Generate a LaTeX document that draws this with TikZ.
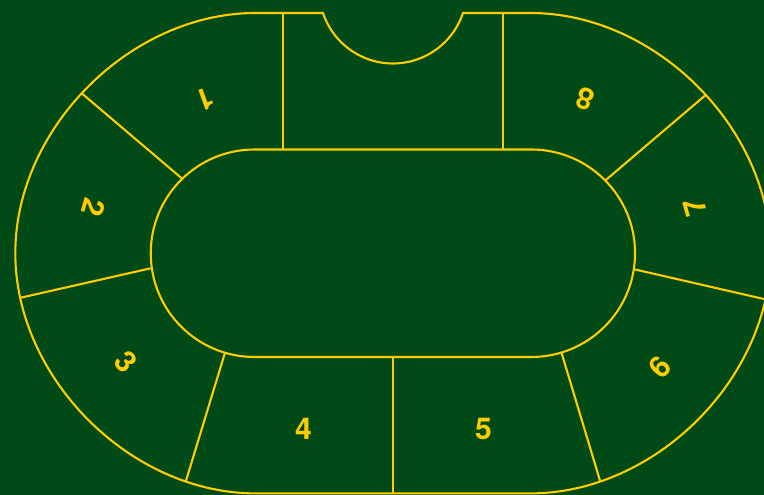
\documentclass[tikz,border=0pt]{standalone}
\usepackage{fontspec}
\setmainfont{TeX Gyre Heros}
\definecolor{felt}{RGB}{0,74,24}
\definecolor{gold}{RGB}{255,204,0}
\begin{document}
\begin{tikzpicture}[x=1pt,y=-1pt,
  rail/.style={draw=gold,line width=2.1pt},
  seat/.style={text=gold,font=\fontsize{30}{30}\selectfont\bfseries,inner sep=0pt}]
\useasboundingbox (0,0) rectangle (764,495);
\fill[felt] (0,0) rectangle (764,495);
\clip (0,0) rectangle (764,495);
% dividers
\draw[rail] (283,13) -- (283,149.5);
\draw[rail] (503,13) -- (503,149.5);
\draw[rail] (81.7,93.3) -- (181.7,178.3);
\draw[rail] (20.7,297.7) -- (150.7,268.3);
\draw[rail] (186,480.7) -- (225,352.7);
\draw[rail] (393.3,357) -- (393.3,493.4);
\draw[rail] (600,480.7) -- (561.5,352.7);
\draw[rail] (766,299.5) -- (635.2,269.5);
\draw[rail] (705.7,95) -- (605,180.7);
% outer rail with dealer notch
\draw[rail] (255.5,13) -- (323,13)
  arc[start angle=161.6, end angle=18.4, radius=73.77]
  -- (530.5,13)
  .. controls (655.5,13) and (770.7,128.2) .. (770.7,253.2)
  .. controls (770.7,378.2) and (655.5,493.4) .. (530.5,493.4)
  -- (255.5,493.4)
  .. controls (130.5,493.4) and (15.3,378.2) .. (15.3,253.2)
  .. controls (15.3,128.2) and (130.5,13) .. (255.5,13) -- cycle;
% inner table
\draw[rail] (254.5,149.5) -- (531.3,149.5)
  arc[start angle=-90, end angle=90, radius=103.75]
  -- (254.5,357)
  arc[start angle=90, end angle=270, radius=103.75] -- cycle;
% seat numbers
\node[seat,rotate=-160] (s1) at (205.5,99) {1};
\node[seat,rotate=-106] (s2) at (94,207.5) {2};
\node[seat,rotate=-49.6] (s3) at (126.5,362) {3};
\node[seat] (s4) at (303.5,428.5) {4};
\node[seat] (s5) at (483.5,428.5) {5};
\node[seat,rotate=48.4] (s6) at (660,367.5) {6};
\node[seat,rotate=105.8] (s7) at (695,207) {7};
\node[seat,rotate=160.8] (s8) at (585,99) {8};
\end{tikzpicture}
\end{document}
